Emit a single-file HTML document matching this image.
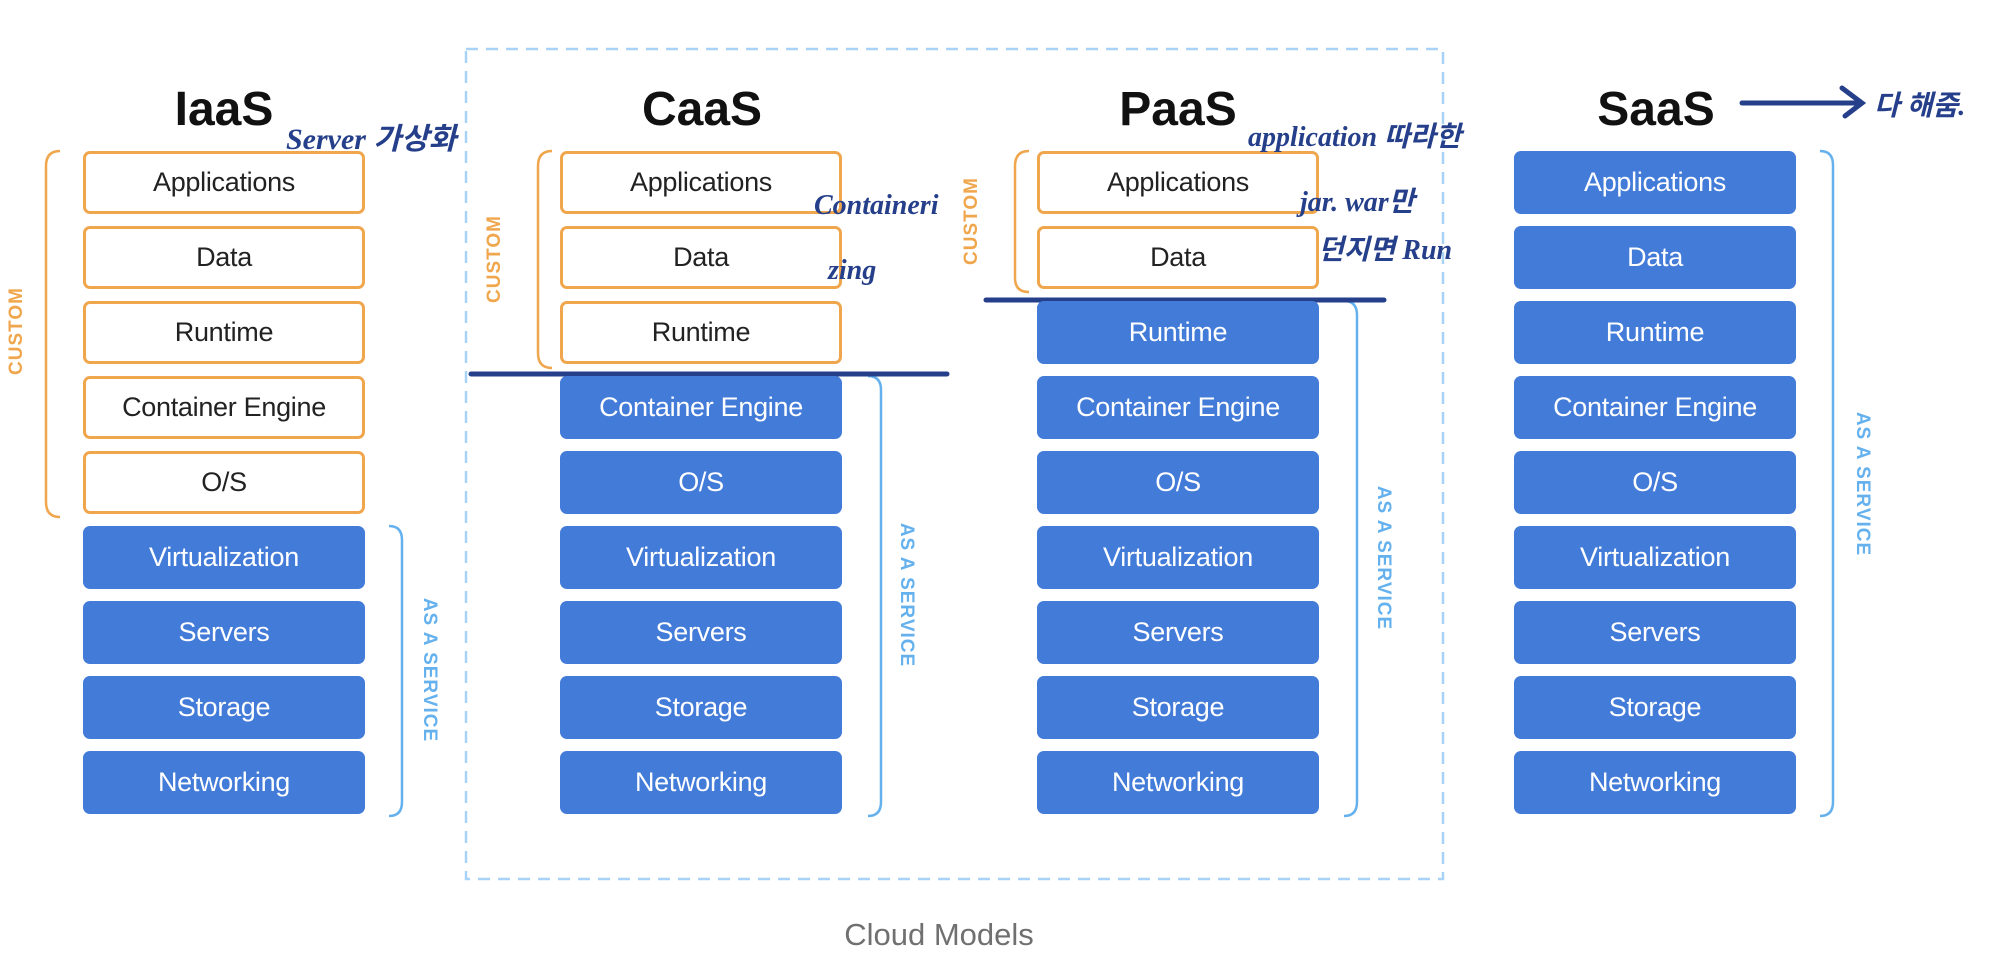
<!DOCTYPE html>
<html><head><meta charset="utf-8"><style>
body{margin:0;width:2008px;height:958px;background:#fff;position:relative;overflow:hidden;font-family:"Liberation Sans","Noto Sans CJK KR",sans-serif}
.b{position:absolute;width:282px;height:63px;border-radius:7px;box-sizing:border-box;display:flex;align-items:center;justify-content:center;font-size:27px;letter-spacing:-0.3px}
.o{border:3px solid #f0a64c;background:#fff;color:#222}
.s{background:#437bd9;color:#fff}
.t{position:absolute;font-size:48px;font-weight:bold;color:#111;transform:translateX(-50%);top:82px}
.v{position:absolute;font-weight:bold;font-size:19px;letter-spacing:1px;white-space:nowrap}
.cu{color:#f0a64c;transform:translate(-50%,-50%) rotate(-90deg)}
.as{color:#64b1ee;transform:translate(-50%,-50%) rotate(90deg)}
.h{position:absolute;color:#253f8a;font-family:"Liberation Serif","Noto Sans CJK KR",serif;font-style:italic;font-weight:bold;white-space:nowrap}
</style></head><body>
<svg width="2008" height="958" style="position:absolute;left:0;top:0">
<rect x="466" y="49" width="977" height="830" fill="none" stroke="#a8d3f7" stroke-width="2.5" stroke-dasharray="12,8"/>
<g fill="none" stroke="#f0a64c" stroke-width="2.5">
<path d="M60 151 Q46 151 46 166 L46 502 Q46 517 60 517"/>
<path d="M552 151 Q538 151 538 166 L538 353 Q538 368 552 368"/>
<path d="M1029 151 Q1015 151 1015 166 L1015 278 Q1015 292 1029 292"/>
</g>
<g fill="none" stroke="#64b1ee" stroke-width="2.5">
<path d="M389 526 Q402 526 402 540 L402 802 Q402 816 389 816"/>
<path d="M868 376 Q881 376 881 390 L881 802 Q881 816 868 816"/>
<path d="M1344 301 Q1357 301 1357 315 L1357 802 Q1357 816 1344 816"/>
<path d="M1820 151 Q1833 151 1833 165 L1833 802 Q1833 816 1820 816"/>
</g>
<g stroke="#253f8a" stroke-width="5" stroke-linecap="round" fill="none">
<line x1="471" y1="374" x2="947" y2="374"/>
<line x1="986" y1="300" x2="1384" y2="300"/>
<line x1="1742" y1="103" x2="1860" y2="103"/>
<path d="M1842 88 L1862 103 L1845 116"/>
</g>
</svg>
<div class="t" style="left:224px">IaaS</div>
<div class="t" style="left:702px">CaaS</div>
<div class="t" style="left:1178px">PaaS</div>
<div class="t" style="left:1656px">SaaS</div>

<div class="b o" style="left:83px;top:151px">Applications</div>
<div class="b o" style="left:83px;top:226px">Data</div>
<div class="b o" style="left:83px;top:301px">Runtime</div>
<div class="b o" style="left:83px;top:376px">Container Engine</div>
<div class="b o" style="left:83px;top:451px">O/S</div>
<div class="b s" style="left:83px;top:526px">Virtualization</div>
<div class="b s" style="left:83px;top:601px">Servers</div>
<div class="b s" style="left:83px;top:676px">Storage</div>
<div class="b s" style="left:83px;top:751px">Networking</div>

<div class="b o" style="left:560px;top:151px">Applications</div>
<div class="b o" style="left:560px;top:226px">Data</div>
<div class="b o" style="left:560px;top:301px">Runtime</div>
<div class="b s" style="left:560px;top:376px">Container Engine</div>
<div class="b s" style="left:560px;top:451px">O/S</div>
<div class="b s" style="left:560px;top:526px">Virtualization</div>
<div class="b s" style="left:560px;top:601px">Servers</div>
<div class="b s" style="left:560px;top:676px">Storage</div>
<div class="b s" style="left:560px;top:751px">Networking</div>

<div class="b o" style="left:1037px;top:151px">Applications</div>
<div class="b o" style="left:1037px;top:226px">Data</div>
<div class="b s" style="left:1037px;top:301px">Runtime</div>
<div class="b s" style="left:1037px;top:376px">Container Engine</div>
<div class="b s" style="left:1037px;top:451px">O/S</div>
<div class="b s" style="left:1037px;top:526px">Virtualization</div>
<div class="b s" style="left:1037px;top:601px">Servers</div>
<div class="b s" style="left:1037px;top:676px">Storage</div>
<div class="b s" style="left:1037px;top:751px">Networking</div>

<div class="b s" style="left:1514px;top:151px">Applications</div>
<div class="b s" style="left:1514px;top:226px">Data</div>
<div class="b s" style="left:1514px;top:301px">Runtime</div>
<div class="b s" style="left:1514px;top:376px">Container Engine</div>
<div class="b s" style="left:1514px;top:451px">O/S</div>
<div class="b s" style="left:1514px;top:526px">Virtualization</div>
<div class="b s" style="left:1514px;top:601px">Servers</div>
<div class="b s" style="left:1514px;top:676px">Storage</div>
<div class="b s" style="left:1514px;top:751px">Networking</div>

<div class="v cu" style="left:17px;top:331px">CUSTOM</div>
<div class="v cu" style="left:495px;top:259px">CUSTOM</div>
<div class="v cu" style="left:972px;top:221px">CUSTOM</div>
<div class="v as" style="left:429px;top:670px">AS A SERVICE</div>
<div class="v as" style="left:906px;top:595px">AS A SERVICE</div>
<div class="v as" style="left:1383px;top:558px">AS A SERVICE</div>
<div class="v as" style="left:1862px;top:484px">AS A SERVICE</div>

<div style="position:absolute;left:939px;top:935px;transform:translate(-50%,-50%);font-size:31px;color:#707070">Cloud Models</div>

<div class="h" style="left:286px;top:114px;font-size:30px">Server 가상화</div>
<div class="h" style="left:814px;top:190px;font-size:28px">Containeri</div>
<div class="h" style="left:828px;top:255px;font-size:28px">zing</div>
<div class="h" style="left:1248px;top:115px;font-size:28px">application 따라한</div>
<div class="h" style="left:1300px;top:180px;font-size:28px">jar. war만</div>
<div class="h" style="left:1318px;top:228px;font-size:28px">던지면 Run</div>
<div class="h" style="left:1874px;top:84px;font-size:28px">다 해줌.</div>
</body></html>
